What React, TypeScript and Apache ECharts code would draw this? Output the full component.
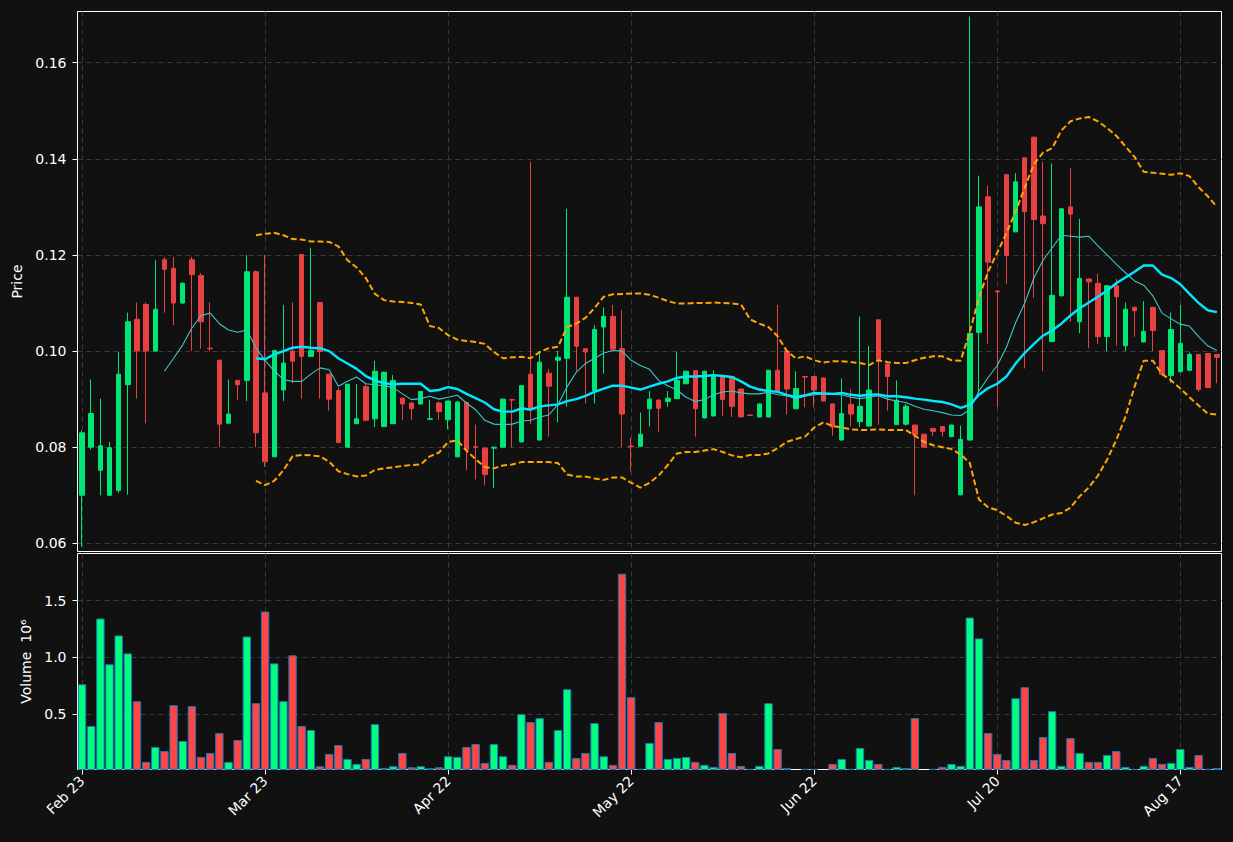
import React, { useEffect, useRef } from 'react';
import * as echarts from 'echarts';

const tickLabels = ['Feb 23', 'Mar 23', 'Apr 22', 'May 22', 'Jun 22', 'Jul 20', 'Aug 17'];

const opens = [
  0.0700, 0.0800, 0.0752, 0.0700, 0.0710, 0.0930, 0.1066, 0.1097, 0.1000, 0.1190,
  0.1172, 0.1100, 0.1190, 0.1157, 0.1006, 0.0981, 0.0850, 0.0939, 0.0939, 0.1165,
  0.0913, 0.0780, 0.0919, 0.1000, 0.1201, 0.0989, 0.1101, 0.0952, 0.0918, 0.0800,
  0.0849, 0.0926, 0.0859, 0.0843, 0.0849, 0.0902, 0.0892, 0.0890, 0.0858, 0.0892,
  0.0857, 0.0780, 0.0893, 0.0801, 0.0798, 0.0798, 0.0800, 0.0899, 0.0811, 0.0952,
  0.0815, 0.0954, 0.0981, 0.0985, 0.1112, 0.1005, 0.0918, 0.1050, 0.1072, 0.1005,
  0.0802, 0.0802, 0.0880, 0.0898, 0.0895, 0.0901, 0.0932, 0.0959, 0.0861, 0.0865,
  0.0948, 0.0947, 0.0921, 0.0867, 0.0863, 0.0863, 0.0960, 0.1000, 0.0880, 0.0947,
  0.0947, 0.0944, 0.0890, 0.0815, 0.0889, 0.0853, 0.0844, 0.1065, 0.0973, 0.0847,
  0.0848, 0.0846, 0.0827, 0.0839, 0.0843, 0.0822, 0.0701, 0.0815, 0.1039, 0.1321,
  0.1125, 0.1367, 0.1248, 0.1402, 0.1445, 0.1281, 0.1020, 0.1115, 0.1300, 0.1061,
  0.1150, 0.1141, 0.1030, 0.1136, 0.1011, 0.1091, 0.1019, 0.1091, 0.1001, 0.0949,
  0.0957, 0.0960, 0.0993, 0.0995, 0.0993,
];
const closes = [
  0.0830, 0.0870, 0.0803, 0.0799, 0.0952, 0.1061, 0.1000, 0.1000, 0.1087, 0.1170,
  0.1100, 0.1141, 0.1159, 0.1061, 0.1005, 0.0848, 0.0869, 0.0930, 0.1165, 0.0830,
  0.0770, 0.1001, 0.0975, 0.0979, 0.0989, 0.1001, 0.0999, 0.0900, 0.0810, 0.0931,
  0.0859, 0.0856, 0.0958, 0.0956, 0.0939, 0.0890, 0.0880, 0.0916, 0.0859, 0.0874,
  0.0896, 0.0894, 0.0795, 0.0800, 0.0743, 0.0800, 0.0900, 0.0898, 0.0928, 0.0879,
  0.0977, 0.0927, 0.0987, 0.1112, 0.1010, 0.0998, 0.1045, 0.1072, 0.1004, 0.0869,
  0.0801, 0.0827, 0.0900, 0.0881, 0.0902, 0.0939, 0.0958, 0.0880, 0.0958, 0.0950,
  0.0899, 0.0885, 0.0863, 0.0866, 0.0890, 0.0960, 0.0917, 0.0921, 0.0922, 0.0946,
  0.0919, 0.0896, 0.0842, 0.0870, 0.0869, 0.0885, 0.0919, 0.0983, 0.0947, 0.0898,
  0.0885, 0.0826, 0.0800, 0.0833, 0.0833, 0.0846, 0.0816, 0.1037, 0.1300, 0.1185,
  0.1123, 0.1199, 0.1352, 0.1290, 0.1274, 0.1265, 0.1116, 0.1296, 0.1285, 0.1151,
  0.1144, 0.1030, 0.1136, 0.1113, 0.1087, 0.1084, 0.1041, 0.1043, 0.0952, 0.1045,
  0.1016, 0.0993, 0.0920, 0.0924, 0.0987,
];
const highs = [
  0.0835, 0.0941, 0.0901, 0.0811, 0.0998, 0.1080, 0.1101, 0.1101, 0.1189, 0.1196,
  0.1196, 0.1143, 0.1196, 0.1162, 0.1101, 0.0982, 0.0941, 0.0940, 0.1200, 0.1168,
  0.1200, 0.1003, 0.1096, 0.1101, 0.1201, 0.1215, 0.1102, 0.0953, 0.0924, 0.0932,
  0.0931, 0.0931, 0.0980, 0.0957, 0.0950, 0.0903, 0.0893, 0.0917, 0.0899, 0.0895,
  0.0897, 0.0895, 0.0895, 0.0847, 0.0800, 0.0801, 0.0901, 0.0900, 0.0929, 0.1394,
  0.1000, 0.0963, 0.1000, 0.1296, 0.1113, 0.1006, 0.1054, 0.1091, 0.1096, 0.1085,
  0.0820, 0.0872, 0.0917, 0.0899, 0.0917, 0.0999, 0.0959, 0.0960, 0.0959, 0.0960,
  0.0950, 0.0948, 0.0922, 0.0867, 0.0891, 0.0961, 0.1096, 0.1001, 0.0958, 0.0948,
  0.0948, 0.0945, 0.0891, 0.0943, 0.0920, 0.1072, 0.1011, 0.1066, 0.0974, 0.0939,
  0.0890, 0.0847, 0.0828, 0.0840, 0.0844, 0.0847, 0.0845, 0.1696, 0.1365, 0.1344,
  0.1126, 0.1368, 0.1370, 0.1403, 0.1446, 0.1394, 0.1390, 0.1297, 0.1381, 0.1275,
  0.1151, 0.1161, 0.1137, 0.1150, 0.1101, 0.1092, 0.1104, 0.1092, 0.1002, 0.1080,
  0.1096, 0.0997, 0.0994, 0.0996, 0.0994,
];
const lows = [
  0.0593, 0.0795, 0.0700, 0.0698, 0.0705, 0.0701, 0.0901, 0.0850, 0.0998, 0.1080,
  0.1054, 0.1098, 0.1000, 0.1005, 0.1000, 0.0800, 0.0848, 0.0899, 0.0896, 0.0800,
  0.0759, 0.0780, 0.0896, 0.0933, 0.0901, 0.0988, 0.0901, 0.0876, 0.0808, 0.0799,
  0.0848, 0.0855, 0.0842, 0.0842, 0.0848, 0.0856, 0.0857, 0.0889, 0.0857, 0.0857,
  0.0837, 0.0779, 0.0752, 0.0733, 0.0721, 0.0715, 0.0799, 0.0800, 0.0810, 0.0848,
  0.0814, 0.0822, 0.0852, 0.0884, 0.0959, 0.0891, 0.0891, 0.0953, 0.1003, 0.0800,
  0.0750, 0.0801, 0.0843, 0.0831, 0.0884, 0.0900, 0.0931, 0.0822, 0.0860, 0.0864,
  0.0865, 0.0863, 0.0862, 0.0865, 0.0862, 0.0862, 0.0916, 0.0868, 0.0879, 0.0883,
  0.0883, 0.0895, 0.0824, 0.0814, 0.0843, 0.0842, 0.0843, 0.0847, 0.0876, 0.0846,
  0.0845, 0.0700, 0.0799, 0.0824, 0.0822, 0.0821, 0.0700, 0.0813, 0.0913, 0.1015,
  0.0883, 0.1140, 0.1247, 0.0964, 0.1111, 0.0958, 0.1019, 0.1114, 0.1061, 0.1037,
  0.1006, 0.1015, 0.1000, 0.1011, 0.1000, 0.1030, 0.1018, 0.1000, 0.0951, 0.0934,
  0.0956, 0.0959, 0.0915, 0.0923, 0.0933,
];
// volume in millions
const volumes = [
  0.763, 0.395, 1.342, 0.939, 1.193, 1.035, 0.614, 0.079, 0.211, 0.175,
  0.579, 0.263, 0.570, 0.123, 0.158, 0.333, 0.079, 0.272, 1.184, 0.596,
  1.404, 0.947, 0.614, 1.018, 0.395, 0.360, 0.041, 0.149, 0.228, 0.105,
  0.061, 0.105, 0.412, 0.026, 0.041, 0.158, 0.032, 0.041, 0.023, 0.032,
  0.129, 0.123, 0.211, 0.237, 0.070, 0.237, 0.129, 0.053, 0.500, 0.430,
  0.465, 0.079, 0.360, 0.719, 0.114, 0.158, 0.421, 0.129, 0.053, 1.737,
  0.649, 0.018, 0.246, 0.430, 0.105, 0.114, 0.123, 0.079, 0.053, 0.035,
  0.509, 0.158, 0.044, 0.018, 0.044, 0.596, 0.193, 0.026, 0.012, 0.018,
  0.018, 0.012, 0.061, 0.105, 0.018, 0.202, 0.096, 0.061, 0.018, 0.035,
  0.026, 0.465, 0.012, 0.018, 0.035, 0.061, 0.044, 1.351, 1.167, 0.333,
  0.149, 0.096, 0.640, 0.737, 0.096, 0.298, 0.526, 0.044, 0.289, 0.158,
  0.079, 0.079, 0.140, 0.175, 0.035, 0.018, 0.044, 0.114, 0.061, 0.070,
  0.193, 0.035, 0.140, 0.018, 0.026,
];
const ma10 = [
  null, null, null, null, null, null, null, null, null, 0.0958,
  0.0985, 0.1013, 0.1048, 0.1074, 0.1079, 0.1057, 0.1044, 0.1039, 0.1044, 0.1007,
  0.0980, 0.0959, 0.0941, 0.0937, 0.0937, 0.0952, 0.0965, 0.0961, 0.0927, 0.0937,
  0.0946, 0.0932, 0.0930, 0.0928, 0.0924, 0.0911, 0.0899, 0.0901, 0.0906, 0.0900,
  0.0904, 0.0908, 0.0892, 0.0878, 0.0856, 0.0848, 0.0847, 0.0848, 0.0854, 0.0856,
  0.0863, 0.0867, 0.0889, 0.0926, 0.0956, 0.0974, 0.0985, 0.0996, 0.1001, 0.1000,
  0.0981, 0.0970, 0.0962, 0.0939, 0.0928, 0.0919, 0.0904, 0.0895, 0.0899, 0.0909,
  0.0915, 0.0917, 0.0913, 0.0911, 0.0911, 0.0914, 0.0909, 0.0907, 0.0901, 0.0906,
  0.0909, 0.0911, 0.0910, 0.0909, 0.0904, 0.0901, 0.0904, 0.0907, 0.0900, 0.0896,
  0.0893, 0.0885, 0.0879, 0.0876, 0.0872, 0.0867, 0.0866, 0.0878, 0.0917, 0.0945,
  0.0970, 0.1008, 0.1059, 0.1100, 0.1152, 0.1189, 0.1215, 0.1241, 0.1239, 0.1237,
  0.1239, 0.1219, 0.1200, 0.1181, 0.1163, 0.1146, 0.1137, 0.1115, 0.1079, 0.1067,
  0.1056, 0.1052, 0.1030, 0.1011, 0.1001,
];
const ma20 = [
  null, null, null, null, null, null, null, null, null, null,
  null, null, null, null, null, null, null, null, null, 0.0985,
  0.0983, 0.0993, 0.1000, 0.1007, 0.1009, 0.1007, 0.1006, 0.1000, 0.0985, 0.0974,
  0.0963, 0.0948, 0.0939, 0.0933, 0.0931, 0.0932, 0.0932, 0.0932, 0.0917, 0.0919,
  0.0925, 0.0921, 0.0911, 0.0902, 0.0893, 0.0879, 0.0874, 0.0874, 0.0881, 0.0878,
  0.0885, 0.0887, 0.0889, 0.0896, 0.0900, 0.0907, 0.0915, 0.0922, 0.0928, 0.0928,
  0.0924, 0.0920, 0.0926, 0.0932, 0.0937, 0.0944, 0.0947, 0.0947, 0.0948, 0.0950,
  0.0948, 0.0946, 0.0937, 0.0926, 0.0920, 0.0917, 0.0915, 0.0909, 0.0904, 0.0908,
  0.0913, 0.0912, 0.0911, 0.0913, 0.0909, 0.0907, 0.0909, 0.0910, 0.0906, 0.0906,
  0.0904, 0.0901, 0.0899, 0.0896, 0.0894, 0.0889, 0.0882, 0.0888, 0.0909, 0.0923,
  0.0932, 0.0947, 0.0974, 0.0996, 0.1015, 0.1032, 0.1043, 0.1057, 0.1074, 0.1089,
  0.1101, 0.1113, 0.1126, 0.1141, 0.1153, 0.1165, 0.1178, 0.1178, 0.1159, 0.1152,
  0.1139, 0.1119, 0.1100, 0.1085, 0.1081,
];
const bbUpper = [
  null, null, null, null, null, null, null, null, null, null,
  null, null, null, null, null, null, null, null, null, 0.1241,
  0.1244, 0.1246, 0.1241, 0.1233, 0.1232, 0.1228, 0.1228, 0.1227, 0.1218, 0.1189,
  0.1174, 0.1152, 0.1119, 0.1106, 0.1103, 0.1102, 0.1100, 0.1097, 0.1052, 0.1048,
  0.1033, 0.1024, 0.1021, 0.1019, 0.1015, 0.0998, 0.0985, 0.0987, 0.0988, 0.0985,
  0.0998, 0.1006, 0.1009, 0.1050, 0.1057, 0.1069, 0.1090, 0.1113, 0.1118, 0.1119,
  0.1120, 0.1120, 0.1117, 0.1111, 0.1104, 0.1099, 0.1099, 0.1100, 0.1100, 0.1101,
  0.1100, 0.1099, 0.1097, 0.1066, 0.1057, 0.1050, 0.1031, 0.1000, 0.0985, 0.0989,
  0.0981, 0.0976, 0.0979, 0.0979, 0.0977, 0.0975, 0.0971, 0.0981, 0.0977, 0.0975,
  0.0975, 0.0981, 0.0986, 0.0989, 0.0989, 0.0981, 0.0980, 0.1040, 0.1112, 0.1165,
  0.1205, 0.1245, 0.1290, 0.1340, 0.1389, 0.1413, 0.1422, 0.1459, 0.1478, 0.1484,
  0.1487, 0.1478, 0.1464, 0.1448, 0.1426, 0.1404, 0.1373, 0.1371, 0.1369, 0.1367,
  0.1370, 0.1364, 0.1341, 0.1322, 0.1300,
];
const bbLower = [
  null, null, null, null, null, null, null, null, null, null,
  null, null, null, null, null, null, null, null, null, 0.0730,
  0.0721, 0.0730, 0.0752, 0.0781, 0.0784, 0.0783, 0.0781, 0.0770, 0.0750, 0.0744,
  0.0739, 0.0741, 0.0753, 0.0756, 0.0758, 0.0761, 0.0763, 0.0764, 0.0781, 0.0789,
  0.0811, 0.0814, 0.0793, 0.0775, 0.0759, 0.0756, 0.0762, 0.0764, 0.0769, 0.0769,
  0.0769, 0.0769, 0.0767, 0.0743, 0.0739, 0.0739, 0.0735, 0.0732, 0.0737, 0.0737,
  0.0726, 0.0716, 0.0726, 0.0741, 0.0763, 0.0787, 0.0790, 0.0790, 0.0793, 0.0796,
  0.0790, 0.0783, 0.0779, 0.0784, 0.0784, 0.0787, 0.0798, 0.0811, 0.0817, 0.0822,
  0.0841, 0.0852, 0.0844, 0.0841, 0.0837, 0.0836, 0.0836, 0.0837, 0.0836, 0.0836,
  0.0836, 0.0824, 0.0811, 0.0804, 0.0800, 0.0796, 0.0785, 0.0767, 0.0691, 0.0675,
  0.0669, 0.0657, 0.0643, 0.0638, 0.0644, 0.0652, 0.0660, 0.0663, 0.0674, 0.0698,
  0.0716, 0.0741, 0.0774, 0.0815, 0.0863, 0.0926, 0.0980, 0.0980, 0.0952, 0.0939,
  0.0922, 0.0904, 0.0887, 0.0870, 0.0868,
];

const UP_CANDLE = '#00e676';
const DOWN_CANDLE = '#e84141';
const UP_VOL = '#00ff80';
const DOWN_VOL = '#ff4545';
const GRID_LINE = '#3a3a3a';
const TEXT = '#ffffff';

export default function App() {
  const ref = useRef<HTMLDivElement>(null);

  useEffect(() => {
    if (!ref.current) return;
    const chart = echarts.init(ref.current, null, { renderer: 'svg' });
    const categories = opens.map((_, i) => String(i));
    const candleData = opens.map((o, i) => [o, closes[i], lows[i], highs[i]]);
    const volData = volumes.map((v, i) => ({
      value: v,
      itemStyle: { color: closes[i] >= opens[i] ? UP_VOL : DOWN_VOL },
    }));

    const splitLine = {
      show: true,
      lineStyle: { color: GRID_LINE, type: [5, 4] as any, width: 1 },
    };

    const option: any = {
      animation: false,
      backgroundColor: '#111111',
      textStyle: { fontFamily: 'DejaVu Sans' },
      grid: [
        { left: 77.5, top: 11.5, width: 1144, height: 540, show: true, borderColor: '#ffffff', borderWidth: 1, backgroundColor: 'transparent' },
        { left: 77.5, top: 553.5, width: 1144, height: 216, show: true, borderColor: '#ffffff', borderWidth: 1, backgroundColor: 'transparent' },
      ],
      xAxis: [
        {
          type: 'category', gridIndex: 0, data: categories, boundaryGap: true,
          axisLine: { show: false }, axisTick: { show: false }, axisLabel: { show: false },
          splitLine: { ...splitLine, interval: 19, alignWithLabel: true },
        },
        {
          type: 'category', gridIndex: 1, data: categories, boundaryGap: true,
          axisLine: { show: false },
          axisTick: { show: true, interval: 19, alignWithLabel: true, length: 5, lineStyle: { color: TEXT } },
          axisLabel: {
            show: true, interval: 19, rotate: 45, color: TEXT, fontSize: 14, margin: 9,
            formatter: (_v: string, idx: number) => tickLabels[idx / 20] ?? '',
          },
          splitLine: { ...splitLine, interval: 19, alignWithLabel: true },
        },
      ],
      yAxis: [
        {
          type: 'value', gridIndex: 0, min: 0.0583, max: 0.17065, splitNumber: 5,
          axisLine: { show: false },
          axisTick: { show: true, length: 5, lineStyle: { color: TEXT } },
          axisLabel: { color: TEXT, fontSize: 14, margin: 11, showMinLabel: false, showMaxLabel: false, formatter: (v: number) => v.toFixed(2) },
          splitLine: { ...splitLine, showMinLine: false, showMaxLine: false },
          name: 'Price', nameLocation: 'middle', nameGap: 53, nameRotate: 90,
          nameTextStyle: { color: TEXT, fontSize: 14 },
        },
        {
          type: 'value', gridIndex: 1, min: 0.012, max: 1.915, splitNumber: 4,
          axisLine: { show: false },
          axisTick: { show: true, length: 5, lineStyle: { color: TEXT } },
          axisLabel: { color: TEXT, fontSize: 14, margin: 11, showMinLabel: false, showMaxLabel: false, formatter: (v: number) => v.toFixed(1) },
          splitLine: { ...splitLine, showMinLine: false, showMaxLine: false },
          name: 'Volume  10⁶', nameLocation: 'middle', nameGap: 45, nameRotate: 90,
          nameTextStyle: { color: TEXT, fontSize: 14 },
        },
      ],
      series: [
        {
          type: 'candlestick', xAxisIndex: 0, yAxisIndex: 0, data: candleData, barWidth: 5,
          itemStyle: { color: UP_CANDLE, color0: DOWN_CANDLE, borderColor: UP_CANDLE, borderColor0: DOWN_CANDLE, borderWidth: 1 },
        },
        {
          type: 'line', xAxisIndex: 0, yAxisIndex: 0, data: ma10, showSymbol: false, symbol: 'none',
          lineStyle: { color: '#3ec6c6', width: 1.1 },
        },
        {
          type: 'line', xAxisIndex: 0, yAxisIndex: 0, data: ma20, showSymbol: false, symbol: 'none',
          lineStyle: { color: '#00e8ff', width: 2.4 },
        },
        {
          type: 'line', xAxisIndex: 0, yAxisIndex: 0, data: bbUpper, showSymbol: false, symbol: 'none',
          lineStyle: { color: '#ffa500', width: 2, type: [6, 3] },
        },
        {
          type: 'line', xAxisIndex: 0, yAxisIndex: 0, data: bbLower, showSymbol: false, symbol: 'none',
          lineStyle: { color: '#ffa500', width: 2, type: [6, 3] },
        },
        {
          type: 'bar', xAxisIndex: 1, yAxisIndex: 1, data: volData, barWidth: 8.4,
          itemStyle: { borderColor: '#1f77b4', borderWidth: 1 },
        },
      ],
    };

    chart.setOption(option);
    return () => chart.dispose();
  }, []);

  return <div ref={ref} style={{ position: 'fixed', left: 0, top: 0, width: 1233, height: 842 }} />;
}
